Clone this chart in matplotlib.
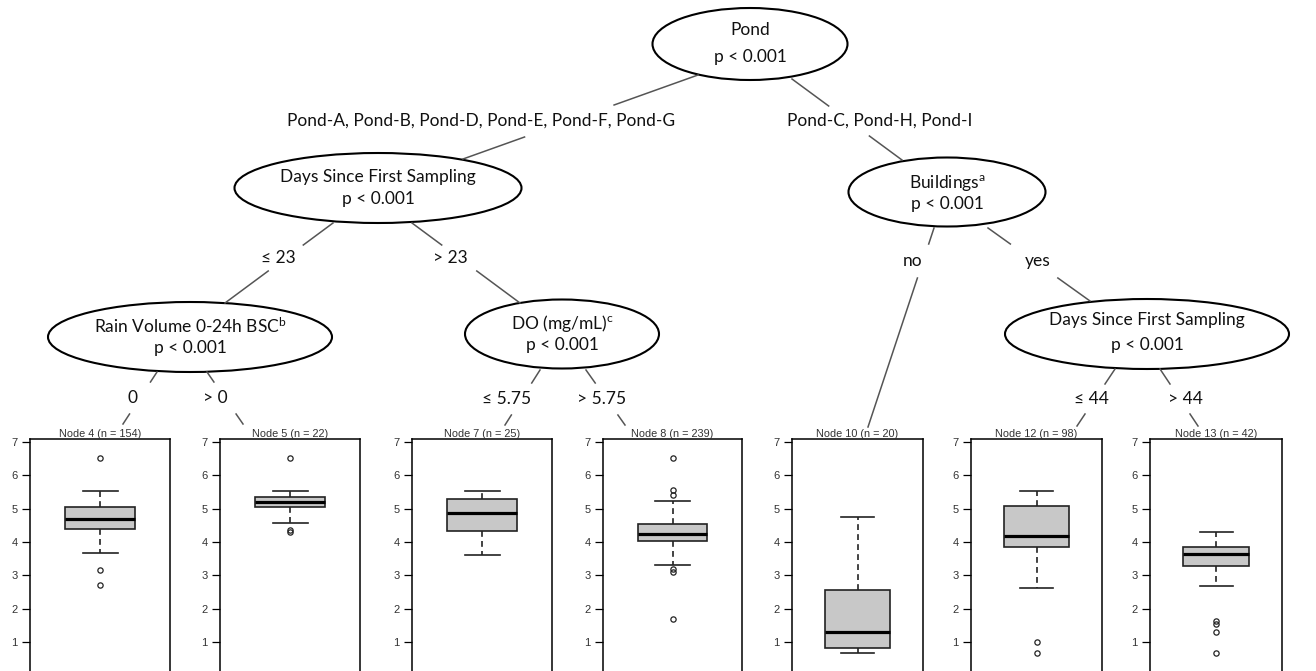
import matplotlib
matplotlib.use("Agg")
import matplotlib.pyplot as plt
from matplotlib.patches import Ellipse

# Terminal node box plot summaries
node_names = ["Node 4", "Node 5", "Node 7", "Node 8", "Node 10", "Node 12", "Node 13"]
node_n = [154, 22, 25, 239, 20, 98, 42]
medians = [4.69, 5.19, 4.87, 4.25, 1.31, 4.17, 3.63]
q1s = [4.38, 5.04, 4.32, 4.03, 0.82, 3.84, 3.28]
q3s = [5.04, 5.36, 5.28, 4.53, 2.55, 5.08, 3.86]
whis_lo = [3.67, 4.56, 3.60, 3.31, 0.68, 2.63, 2.67]
whis_hi = [5.535, 5.535, 5.535, 5.23, 4.74, 5.525, 4.30]
outliers = [
    [6.52, 3.17, 2.72],
    [6.52, 4.36, 4.29],
    [],
    [6.52, 5.55, 5.40, 3.20, 3.10, 1.69],
    [],
    [1.00, 0.68],
    [1.62, 1.53, 1.29, 0.68],
]
y_ticks = [1, 2, 3, 4, 5, 6, 7]

# Inner nodes: lines of text
inner_text = [
    ["Pond", "p < 0.001"],
    ["Days Since First Sampling", "p < 0.001"],
    ["Rain Volume 0-24h BSC$^b$", "p < 0.001"],
    ["DO (mg/mL)$^c$", "p < 0.001"],
    ["Buildings$^a$", "p < 0.001"],
    ["Days Since First Sampling", "p < 0.001"],
]
edge_labels = ["Pond-A, Pond-B, Pond-D, Pond-E, Pond-F, Pond-G", "Pond-C, Pond-H, Pond-I",
               "\u2264 23", "> 23", "0", "> 0", "\u2264 5.75", "> 5.75",
               "no", "yes", "\u2264 44", "> 44"]

# ---- layout (pixels of the 1316x671 image) ----
W, H = 1316, 671
ellipses = [(750, 44, 195, 72), (378, 188, 287, 70), (190, 337, 284, 70),
            (562, 334, 194, 69), (947, 192, 197, 69), (1147, 334, 284, 70)]
text_rows = [(30, 57), (177, 199), (326, 348), (323, 345), (183, 204), (320, 345)]
# edge: line start, line end, label position, half gap around label
edges = [((698, 75), (463, 159), (481, 121), 16),
         ((792, 79), (902, 160), (880, 121), 15),
         ((333, 223), (225, 303), (278, 258), 13),
         ((412, 223), (520, 303), (450, 258), 13),
         ((157, 372), (123, 424), (133, 398), 16),
         ((207, 372), (243, 424), (215, 398), 16),
         ((540, 370), (505, 425), (507, 399), 16),
         ((586, 370), (625, 425), (602, 399), 16),
         ((934, 228), (868, 427), (913, 261), 17),
         ((988, 228), (1090, 301), (1038, 261), 17),
         ((1115, 369), (1077, 426), (1091, 399), 15),
         ((1160, 369), (1198, 426), (1185, 399), 15)]
panels = [(30, 170), (220, 360), (412, 552), (603, 742), (792, 923), (971, 1102), (1150, 1282)]

plt.rcParams["mathtext.default"] = "regular"
tree_font = "Lato"
box_font = "Liberation Sans"
tree_size = 12.5

fig = plt.figure(figsize=(W / 100, H / 100), dpi=100)
tree = fig.add_axes([0, 0, 1, 1])
tree.set_xlim(0, W)
tree.set_ylim(H, 0)
tree.axis("off")

# edges, broken where the label sits
for (x0, y0), (x1, y1), (lx, ly), g in edges:
    def x_at(y):
        return x0 + (x1 - x0) * (y - y0) / (y1 - y0)
    tree.plot([x0, x_at(ly - g)], [y0, ly - g], color="#555555", lw=1.1)
    tree.plot([x_at(ly + g), x1], [ly + g, y1], color="#555555", lw=1.1)

for (lx, ly), lab in zip([e[2] for e in edges], edge_labels):
    tree.text(lx, ly, lab, ha="center", va="center", fontsize=tree_size, family=tree_font,
              color="#111111")

for (cx, cy, w, h), rows, lines in zip(ellipses, text_rows, inner_text):
    tree.add_patch(Ellipse((cx, cy), w, h, facecolor="white", edgecolor="black", lw=1.5))
    for ty, line in zip(rows, lines):
        tree.text(cx, ty, line, ha="center", va="center", fontsize=tree_size,
                  family=tree_font, color="#111111")

# terminal box plots
unit = 200 / 6
top_px = 442 - 0.09 * unit
bot_px = 442 + 7 * unit
for i, (l, r) in enumerate(panels):
    ax = fig.add_axes([l / W, 1 - bot_px / H, (r - l) / W, (bot_px - top_px) / H])
    stats = [dict(med=medians[i], q1=q1s[i], q3=q3s[i], whislo=whis_lo[i],
                  whishi=whis_hi[i], fliers=outliers[i])]
    ax.bxp(stats, positions=[1], widths=0.5, capwidths=0.25, patch_artist=True,
           boxprops=dict(facecolor="#c8c8c8", edgecolor="#222222", linewidth=1.2),
           medianprops=dict(color="black", linewidth=2.3),
           whiskerprops=dict(color="#222222", linestyle=(0, (3.5, 2.5)), linewidth=1.2),
           capprops=dict(color="#222222", linewidth=1.2),
           flierprops=dict(marker="o", markersize=3.8, markerfacecolor="none",
                           markeredgecolor="#222222", markeredgewidth=0.9))
    ax.set_xlim(0.5, 1.5)
    ax.set_ylim(0, 7.09)
    ax.set_xticks([])
    ax.set_yticks(y_ticks)
    ax.tick_params(axis="y", length=6, width=0.9, labelsize=8, pad=3,
                   labelcolor="#333333")
    for t in ax.get_yticklabels():
        t.set_family(box_font)
    for s in ax.spines.values():
        s.set_linewidth(1.1)
    ax.set_title(f"{node_names[i]} (n = {node_n[i]})", fontsize=7.8, family=box_font,
                 pad=1.2, color="#333333")

fig.savefig("out.png", dpi=100)
